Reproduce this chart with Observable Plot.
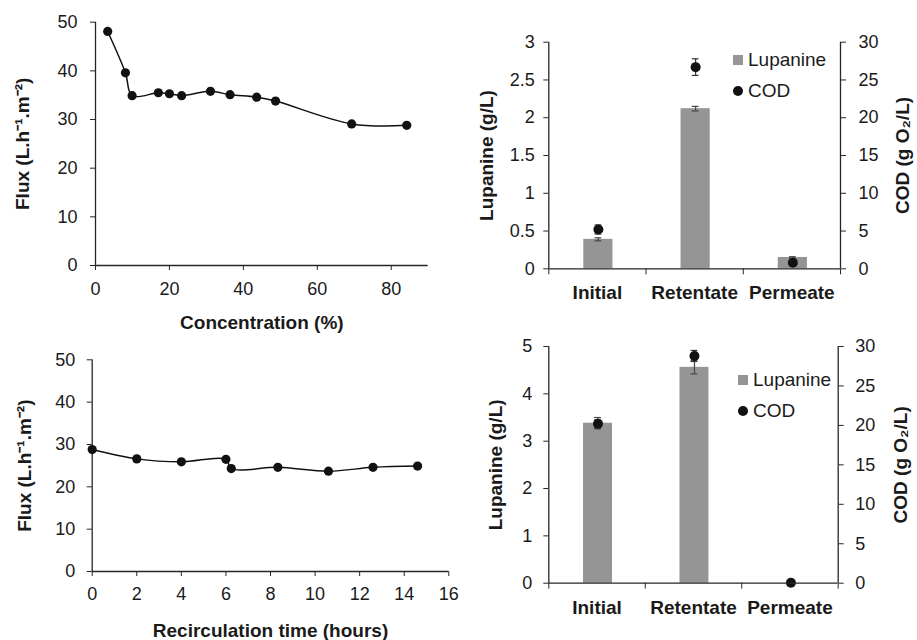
<!DOCTYPE html>
<html><head><meta charset="utf-8">
<script src="https://cdn.jsdelivr.net/npm/d3@7"></script>
<script src="https://cdn.jsdelivr.net/npm/@observablehq/plot@0.6"></script>
<style>
body{margin:0;background:#fff;}
#wrap{position:relative;width:917px;height:640px;overflow:hidden;background:#fff;font-family:"Liberation Sans",Arial,sans-serif;}
.panel{position:absolute;}
.legend{position:absolute;font-size:19px;color:#1a1a1a;line-height:31px;}
.legend .row{display:flex;align-items:center;white-space:nowrap;}
.legend .sq{width:10px;height:10px;background:#959595;margin-right:5px;}
.legend .dt{width:10px;height:10px;border-radius:50%;background:#111;margin-right:5px;}
</style></head><body><div id="wrap"></div>
<script>
// ---- data ----
const concPct   = [3.3, 8.1, 9.9, 17.0, 20.0, 23.3, 31.1, 36.4, 43.6, 48.7, 69.3, 84.2];
const fluxConc  = [48.1, 39.6, 34.9, 35.5, 35.3, 34.9, 35.8, 35.1, 34.6, 33.8, 29.1, 28.8];
const recircHours = [0, 2.0, 4.0, 6.0, 6.24, 8.33, 10.6, 12.6, 14.6];
const fluxRecirc  = [28.8, 26.6, 25.9, 26.5, 24.3, 24.6, 23.7, 24.6, 24.9];
const categories = ["Initial", "Retentate", "Permeate"];
const lupanineA    = [0.39, 2.12, 0.15];
const lupanineErrA = [0.02, 0.03, 0.01];
const codA         = [5.2, 26.7, 0.8];
const codErrA      = [0.6, 1.1, 0.3];
const lupanineB    = [3.38, 4.56, 0];
const lupanineErrB = [0.12, 0.14, 0];
const codB         = [20.2, 28.8, 0.05];
const codErrB      = [0.5, 0.7, 0];
const fluxTicks = [0, 10, 20, 30, 40, 50];
const concTicks = [0, 20, 40, 60, 80];
const hourTicks = [0, 2, 4, 6, 8, 10, 12, 14, 16];
const lupTicksA = [0, 0.5, 1, 1.5, 2, 2.5, 3];
const lupTicksB = [0, 1, 2, 3, 4, 5];
const codTicks  = [0, 5, 10, 15, 20, 25, 30];

const FONT = '"Liberation Sans", Arial, sans-serif';
const AX = "#262626";
const wrap = document.getElementById("wrap");

function place(node, left, top) {
  const d = document.createElement("div");
  d.className = "panel";
  d.style.left = left + "px"; d.style.top = top + "px";
  d.appendChild(node);
  wrap.appendChild(d);
}

function lineChart(o) {
  const data = o.xs.map((x, i) => ({x, y: o.ys[i]}));
  return Plot.plot({
    width: o.width, height: o.height,
    marginLeft: o.mL, marginRight: o.mR, marginTop: o.mT, marginBottom: o.mB,
    style: {fontFamily: FONT, fontSize: "18px", color: AX, background: "transparent", overflow: "visible"},
    x: {domain: o.xDomain},
    y: {domain: o.yDomain},
    marks: [
      Plot.axisX({ticks: o.xTicks, tickSize: 5, tickPadding: o.xPad, label: null, tickFormat: d => String(d), fill: "#1a1a1a"}),
      Plot.axisY({ticks: o.yTicks, tickSize: 5, tickPadding: o.yPad, label: null, tickFormat: d => String(d), fill: "#1a1a1a"}),
      Plot.ruleY([o.yDomain[0]], {stroke: AX, strokeWidth: 1.3}),
      Plot.ruleX([o.xDomain[0]], {stroke: AX, strokeWidth: 1.3}),
      Plot.line(data, {x: "x", y: "y", curve: "catmull-rom", stroke: "#111", strokeWidth: 1.5}),
      Plot.dot(data, {x: "x", y: "y", r: 4.6, fill: "#111", stroke: "none"}),
      Plot.text([o.xLabel], {frameAnchor: "bottom", textAnchor: "middle", lineAnchor: "middle", dy: o.xTitleDy, fontWeight: "bold", fontSize: 19, fill: "#1a1a1a"}),
      Plot.text([o.yLabel], {frameAnchor: "left", textAnchor: "middle", lineAnchor: "middle", rotate: -90, dx: -o.yTitleDx, fontWeight: "bold", fontSize: 19, fill: "#1a1a1a"})
    ]
  });
}

function barChart(o) {
  const k = o.yMax / 30;
  const rows = categories.map((c, i) => ({i, c, lup: o.lup[i], le: o.lupErr[i], cod: o.cod[i] * k, ce: o.codErr[i] * k}));
  const lupE = rows.filter(d => d.le > 0);
  const codE = rows.filter(d => d.ce > 0);
  return Plot.plot({
    width: o.width, height: o.height,
    marginLeft: o.mL, marginRight: o.mR, marginTop: o.mT, marginBottom: o.mB,
    style: {fontFamily: FONT, fontSize: "18px", color: AX, background: "transparent", overflow: "visible"},
    x: {domain: [0, categories.length]},
    y: {domain: [0, o.yMax]},
    marks: [
      Plot.rectY(rows, {x1: d => d.i + 0.36, x2: d => d.i + 0.66, y1: 0, y2: "lup", fill: "#959595"}),
      Plot.ruleX(lupE, {x: d => d.i + 0.51, y1: d => d.lup - d.le, y2: d => d.lup + d.le, stroke: "#444", strokeWidth: 1.2}),
      Plot.ruleY(lupE, {y: d => d.lup + d.le, x1: d => d.i + 0.475, x2: d => d.i + 0.545, stroke: "#444", strokeWidth: 1.2}),
      Plot.ruleY(lupE, {y: d => d.lup - d.le, x1: d => d.i + 0.475, x2: d => d.i + 0.545, stroke: "#444", strokeWidth: 1.2}),
      Plot.ruleX(codE, {x: d => d.i + 0.51, y1: d => d.cod - d.ce, y2: d => d.cod + d.ce, stroke: "#333", strokeWidth: 1.2}),
      Plot.ruleY(codE, {y: d => d.cod + d.ce, x1: d => d.i + 0.475, x2: d => d.i + 0.545, stroke: "#333", strokeWidth: 1.2}),
      Plot.ruleY(codE, {y: d => d.cod - d.ce, x1: d => d.i + 0.475, x2: d => d.i + 0.545, stroke: "#333", strokeWidth: 1.2}),
      Plot.dot(rows, {x: d => d.i + 0.51, y: "cod", r: 5, fill: "#111", stroke: "none"}),
      Plot.ruleY([0], {stroke: AX, strokeWidth: 1.3}),
      Plot.ruleX([0, categories.length], {stroke: AX, strokeWidth: 1.3}),
      Plot.axisY({anchor: "left", ticks: o.yTicks, tickSize: 5, tickPadding: o.lPad, label: null, tickFormat: d => String(d), fill: "#1a1a1a"}),
      Plot.axisY({anchor: "right", ticks: codTicks.map(v => v * k), tickSize: 5, tickPadding: o.rPad, label: null,
                  tickFormat: v => String(Math.round(v / k)), fill: "#1a1a1a"}),
      Plot.axisX({ticks: d3.range(categories.length + 1), tickSize: 6, tickFormat: () => "", label: null}),
      Plot.axisX({ticks: categories.map((c, i) => i + 0.5), tickSize: 0, tickPadding: o.cPad, label: null,
                  tickFormat: v => categories[Math.floor(v)], fontWeight: "bold", fontSize: 19, fill: "#1a1a1a"}),
      Plot.text(["Lupanine (g/L)"], {frameAnchor: "left", textAnchor: "middle", lineAnchor: "middle", rotate: -90, dx: -o.lTitleDx, fontWeight: "bold", fontSize: 19, fill: "#1a1a1a"}),
      Plot.text(["COD (g O\u2082/L)"], {frameAnchor: "right", textAnchor: "middle", lineAnchor: "middle", rotate: -90, dx: o.rTitleDx, fontWeight: "bold", fontSize: 19, fill: "#1a1a1a"})
    ]
  });
}

function legend(left, top) {
  const d = document.createElement("div");
  d.className = "legend";
  d.style.left = left + "px"; d.style.top = top + "px";
  d.innerHTML = '<div class="row"><span class="sq"></span>Lupanine</div><div class="row"><span class="dt"></span>COD</div>';
  wrap.appendChild(d);
}

// Panel 1
place(lineChart({
  xs: concPct, ys: fluxConc, xDomain: [0, 90], xTicks: concTicks, yDomain: [0, 50], yTicks: fluxTicks,
  xLabel: "Concentration (%)", yLabel: "Flux (L.h\u207B\u00B9.m\u207B\u00B2)",
  width: 460, height: 340, mL: 95, mR: 32.3, mT: 21.7, mB: 75,
  xPad: 12, yPad: 13, xTitleDy: 57, yTitleDx: 73
}), 0, 0);

// Panel 3
place(lineChart({
  xs: recircHours, ys: fluxRecirc, xDomain: [0, 16], xTicks: hourTicks, yDomain: [0, 50], yTicks: fluxTicks,
  xLabel: "Recirculation time (hours)", yLabel: "Flux (L.h\u207B\u00B9.m\u207B\u00B2)",
  width: 460, height: 310, mL: 91.7, mR: 11.7, mT: 29.3, mB: 69,
  xPad: 11, yPad: 12, xTitleDy: 59, yTitleDx: 67
}), 0, 330);

// Panel 2
place(barChart({
  lup: lupanineA, lupErr: lupanineErrA, cod: codA, codErr: codErrA, yMax: 3, yTicks: lupTicksA,
  width: 457, height: 340, mL: 88.3, mR: 77, mT: 41.7, mB: 71.7,
  lPad: 9, rPad: 13, cPad: 17, lTitleDx: 62, rTitleDx: 62
}), 460, 0);

// Panel 4
place(barChart({
  lup: lupanineB, lupErr: lupanineErrB, cod: codB, codErr: codErrB, yMax: 5, yTicks: lupTicksB,
  width: 457, height: 310, mL: 88.3, mR: 79.3, mT: 16, mB: 57.3,
  lPad: 11.5, rPad: 12, cPad: 17, lTitleDx: 53, rTitleDx: 63
}), 460, 330);

legend(733, 44);
legend(738, 364);
</script>
</body></html>
